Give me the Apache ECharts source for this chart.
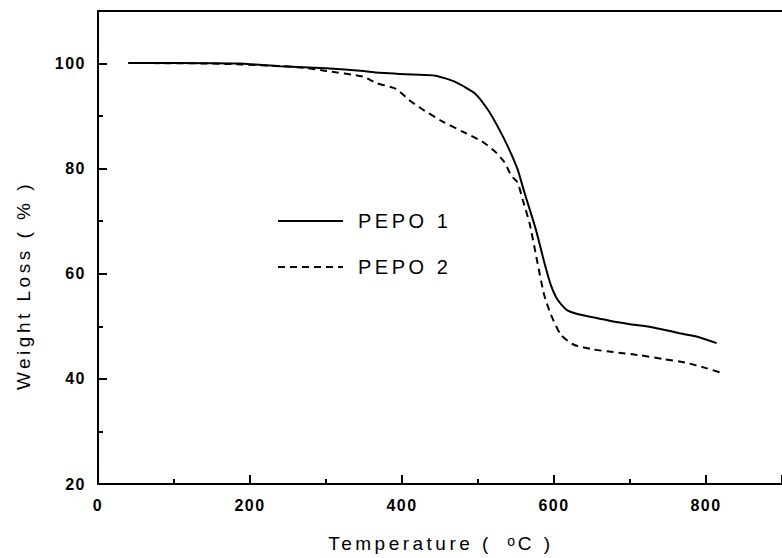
<!DOCTYPE html>
<html>
<head>
<meta charset="utf-8">
<script src="https://cdn.jsdelivr.net/npm/echarts@6/dist/echarts.min.js"></script>
<style>
  html, body { margin: 0; padding: 0; background: #fff; }
  #chart { width: 782px; height: 558px; }
  #chart svg text { letter-spacing: 3.5px; }
  #chart svg text[style*="16px"], #chart svg text[font-size="16px"] { letter-spacing: 1.5px; }
  #chart svg text[style*="14px"], #chart svg text[font-size="14px"] { letter-spacing: 0px; }
</style>
</head>
<body>
<div id="chart"></div>
<script>
// PEPO 1 (solid)
const temps1 = [40, 100, 184, 240, 300, 349, 366, 414, 444, 470, 496, 513, 526, 539, 552, 561, 576, 587, 596, 605, 617, 635, 656, 678, 700, 721, 743, 765, 786, 814];
const loss1  = [100.1, 100.1, 100.0, 99.5, 99.1, 98.6, 98.3, 97.9, 97.7, 96.5, 94.3, 91.2, 88.0, 84.3, 79.9, 75.5, 68.5, 62.3, 57.8, 55.0, 53.1, 52.2, 51.6, 50.9, 50.4, 50.0, 49.4, 48.7, 48.1, 46.8];
// PEPO 2 (dashed)
const temps2 = [40, 150, 230, 271, 300, 349, 366, 392, 409, 430, 453, 479, 505, 522, 535, 544, 552, 559, 568, 578, 587, 596, 609, 626, 652, 678, 713, 743, 773, 799, 819];
const loss2  = [100.1, 100.0, 99.6, 99.2, 98.6, 97.5, 96.3, 95.2, 93.1, 91.0, 89.0, 87.1, 85.2, 83.3, 81.2, 78.6, 77.4, 74.0, 69.5, 62.3, 56.0, 52.2, 48.4, 46.5, 45.6, 45.1, 44.5, 43.8, 43.1, 42.1, 41.2];
const seriesNames = ['PEPO 1', 'PEPO 2'];
const xRange = [0, 900];
const yRange = [20, 110];

const FONT = 'Liberation Sans, Arial, sans-serif';
const chart = echarts.init(document.getElementById('chart'), null, { renderer: 'svg' });

const axisLine = { show: true, lineStyle: { color: '#000', width: 2 } };

chart.setOption({
  animation: false,
  backgroundColor: '#fff',
  grid: { left: 98, top: 11, width: 693, height: 476, containLabel: false },
  legend: {
    orient: 'vertical',
    left: 277,
    top: 211,
    padding: 0,
    itemWidth: 65,
    itemHeight: 20,
    itemGap: 26,
    data: seriesNames,
    itemStyle: { opacity: 0 },
    textStyle: { fontFamily: FONT, fontSize: 20, color: '#000', lineHeight: 20, padding: [0, 0, 0, 10] }
  },
  xAxis: [{
    type: 'value',
    min: xRange[0], max: xRange[1], interval: 200,
    position: 'bottom',
    name: 'Temperature ( {s|o}{c|C )}',
    nameLocation: 'middle',
    nameGap: 50,
    nameTextStyle: {
      fontFamily: FONT, fontSize: 19, color: '#000',
      padding: [0, 0, 0, 21],
      rich: {
        s: { fontFamily: FONT, fontSize: 14, color: '#000', verticalAlign: 'top', lineHeight: 14, padding: [0, 0, 0, 31] },
        c: { fontFamily: FONT, fontSize: 19, color: '#000', padding: [0, 0, 0, 8] }
      }
    },
    axisLine: axisLine,
    axisTick: { show: true, inside: true, length: 9, lineStyle: { color: '#000', width: 2 } },
    minorTick: { show: true, splitNumber: 2, length: 5, lineStyle: { color: '#000', width: 2 } },
    axisLabel: { show: true, showMaxLabel: false, margin: 13, fontFamily: FONT, fontSize: 16, fontWeight: 'bold', color: '#000' },
    splitLine: { show: false }
  }, {
    type: 'value',
    min: xRange[0], max: xRange[1],
    position: 'top',
    axisLine: axisLine,
    axisTick: { show: false },
    axisLabel: { show: false },
    splitLine: { show: false }
  }],
  yAxis: [{
    type: 'value',
    min: yRange[0], max: yRange[1], interval: 20,
    position: 'left',
    name: 'Weight Loss ( % )',
    nameLocation: 'middle',
    nameGap: 65,
    nameRotate: 90,
    nameTextStyle: { fontFamily: FONT, fontSize: 19, color: '#000', padding: [0, 76, 0, 0] },
    axisLine: axisLine,
    axisTick: { show: true, inside: true, length: 9, lineStyle: { color: '#000', width: 2 } },
    axisLabel: { show: true, showMaxLabel: false, margin: 12, fontFamily: FONT, fontSize: 16, fontWeight: 'bold', color: '#000' },
    splitLine: { show: false }
  }, {
    type: 'value',
    min: yRange[0], max: yRange[1], interval: 10,
    position: 'left',
    axisLine: { show: false },
    axisTick: { show: true, inside: true, length: 5, lineStyle: { color: '#000', width: 2 } },
    axisLabel: { show: false },
    splitLine: { show: false }
  }],
  series: [{
    name: seriesNames[0],
    type: 'line',
    xAxisIndex: 0, yAxisIndex: 0,
    data: temps1.map((t, i) => [t, loss1[i]]),
    showSymbol: false,
    symbol: 'none',
    smooth: 0.2,
    lineStyle: { color: '#000', width: 2, type: 'solid' },
    itemStyle: { color: '#000' }
  }, {
    name: seriesNames[1],
    type: 'line',
    xAxisIndex: 0, yAxisIndex: 0,
    data: temps2.map((t, i) => [t, loss2[i]]),
    showSymbol: false,
    symbol: 'none',
    smooth: 0.2,
    lineStyle: { color: '#000', width: 2, type: [7, 5] },
    itemStyle: { color: '#000' }
  }]
});
</script>
</body>
</html>
